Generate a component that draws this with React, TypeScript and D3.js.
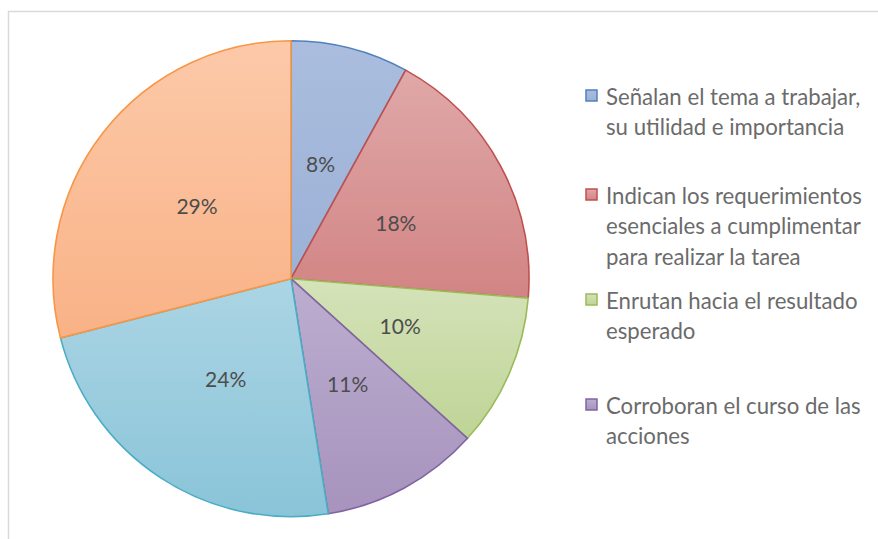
import React from "react";
import * as d3 from "d3";

const categories = [
  "Señalan el tema a trabajar, su utilidad e importancia",
  "Indican los requerimientos esenciales a cumplimentar para realizar la tarea",
  "Enrutan hacia el resultado esperado",
  "Corroboran el curso de las acciones",
  "Otros A",
  "Otros B",
];
const values = [8.0, 18.3, 10.4, 10.8, 23.5, 29.0];
const pctLabels = ["8%", "18%", "10%", "11%", "24%", "29%"];
const legendLines = [
  ["Señalan el tema a trabajar,", "su utilidad e importancia"],
  ["Indican los requerimientos", "esenciales a cumplimentar", "para realizar la tarea"],
  ["Enrutan hacia el resultado", "esperado"],
  ["Corroboran el curso de las", "acciones"],
];
const strokes = ["#4f81bd", "#c0504d", "#9bbb59", "#8064a2", "#4bacc6", "#f79646"];
const gradTop = ["#aabdde", "#e0a8a8", "#d5e3ba", "#bcaed0", "#abd5e4", "#fcc9a9"];
const gradBot = ["#9bb1d6", "#d28484", "#bfd496", "#a793bd", "#8ac4d8", "#f9b286"];

export default function App() {
  const W = 878, H = 539;
  const cx = 291, cy = 278.7, R = 238;
  const pie = d3.pie<number>().sort(null).value((d) => d)(values);
  const arc = d3.arc<d3.PieArcDatum<number>>().innerRadius(0).outerRadius(R);
  const labelArc = d3.arc<d3.PieArcDatum<number>>().innerRadius(R * 0.5).outerRadius(R * 0.5);
  const legendY = [96, 195, 300, 405];
  const lineH = 30.5;
  const font = "Lato, 'Open Sans', sans-serif";
  return (
    <svg width={W} height={H} style={{ position: "fixed", left: 0, top: 0, background: "#fff" }}>
      <defs>
        {values.map((_, i) => (
          <linearGradient key={i} id={`g${i}`} x1="0" y1="0" x2="0" y2="1">
            <stop offset="0" stopColor={gradTop[i]} />
            <stop offset="1" stopColor={gradBot[i]} />
          </linearGradient>
        ))}
      </defs>
      <rect x={8.5} y={11.5} width={W + 20} height={H + 20} fill="#fff" stroke="#d9d9d9" strokeWidth={1.5} />
      <g transform={`translate(${cx},${cy})`}>
        {pie.map((d, i) => (
          <path key={i} d={arc(d) || ""} fill={`url(#g${i})`} stroke={strokes[i]} strokeWidth={1.6} strokeLinejoin="round" />
        ))}
        {pie.map((d, i) => {
          const [x, y] = labelArc.centroid(d);
          return (
            <text key={i} x={x} y={y} textAnchor="middle" dominantBaseline="central" fontFamily={font} fontSize={21} fill="#4d4d4d">
              {pctLabels[i]}
            </text>
          );
        })}
      </g>
      {legendLines.map((lines, i) => (
        <g key={i}>
          <rect x={586} y={legendY[i] - 6} width={11} height={11} fill={`url(#g${i})`} stroke={strokes[i]} strokeWidth={1.5} />
          {lines.map((t, j) => (
            <text key={j} x={606} y={legendY[i] + j * lineH} dominantBaseline="central" fontFamily={font} fontSize={22.2} fill="#6b6b6b">
              {t}
            </text>
          ))}
        </g>
      ))}
    </svg>
  );
}
